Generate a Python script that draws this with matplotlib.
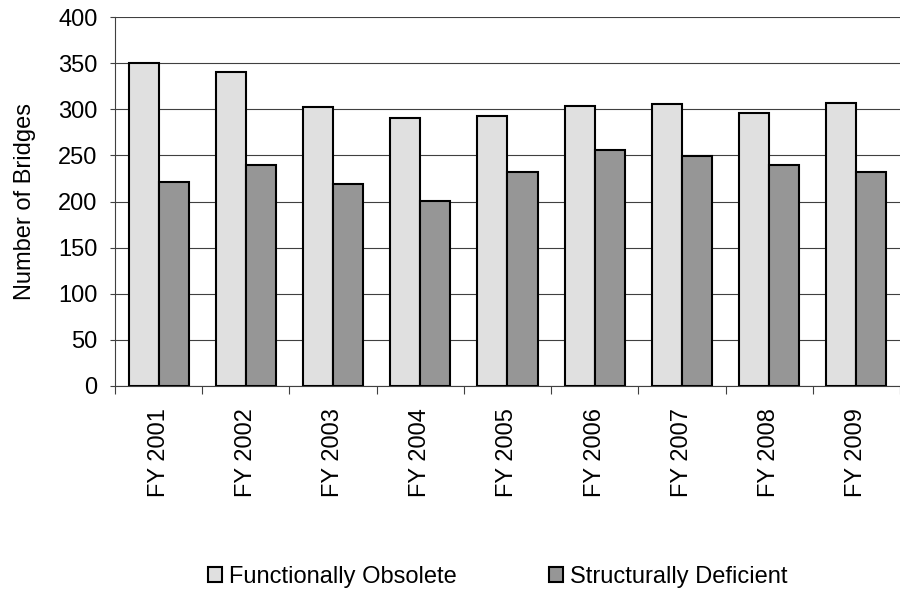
import matplotlib
matplotlib.use("Agg")
import matplotlib.pyplot as plt
import numpy as np
from matplotlib.patches import Patch

categories = ["FY 2001", "FY 2002", "FY 2003", "FY 2004", "FY 2005",
              "FY 2006", "FY 2007", "FY 2008", "FY 2009"]
functionally_obsolete = [350, 340, 302, 291, 293, 303, 306, 296, 307]
structurally_deficient = [221, 240, 219, 201, 232, 256, 249, 240, 232]
series_names = ["Functionally Obsolete", "Structurally Deficient"]

plt.rcParams['font.family'] = ['Liberation Sans', 'DejaVu Sans']
FS = 17

fig = plt.figure(figsize=(9.0, 5.93), dpi=100)
ax = fig.add_axes([115/900, 1 - 386/593, (900-115)/900, (386-17)/593])

x = np.arange(len(categories))
w = 0.345
c1, c2 = "#e0e0e0", "#969696"
ax.bar(x - w/2, functionally_obsolete, w, color=c1, edgecolor="black", linewidth=1.5, zorder=3)
ax.bar(x + w/2, structurally_deficient, w, color=c2, edgecolor="black", linewidth=1.5, zorder=3)

ax.set_xlim(-0.5, len(categories) - 0.5)
ax.set_ylim(0, 400)
ax.set_yticks(np.arange(0, 401, 50))
ax.yaxis.grid(True, color="#404040", linewidth=0.8, zorder=0)
ax.set_axisbelow(True)

ax.set_xticks(x)
ax.set_xticklabels(categories, rotation=90, fontsize=FS)
ax.tick_params(axis='x', length=0, pad=16)
ax.set_xticks(np.arange(-0.5, len(categories), 1), minor=True)
ax.tick_params(axis='x', which='minor', length=6, width=0.8, color="#404040")
ax.tick_params(axis='y', labelsize=FS, length=3.6, width=0.8, color="#404040", pad=9)

ax.spines['top'].set_visible(False)
ax.spines['right'].set_visible(False)
for s in ('left', 'bottom'):
    ax.spines[s].set_color("#404040")
    ax.spines[s].set_linewidth(0.8)

ax.set_ylabel("Number of Bridges", fontsize=FS, labelpad=16)

handles = [Patch(facecolor=c1, edgecolor="black", linewidth=1.5),
           Patch(facecolor=c2, edgecolor="black", linewidth=1.5)]
fig.legend(handles, series_names, loc="center", bbox_to_anchor=(498/900, 1 - 577/593),
           ncol=2, frameon=False, fontsize=FS, handlelength=0.6, handleheight=0.6,
           handletextpad=0.3, columnspacing=3.9, borderpad=0, borderaxespad=0)

fig.savefig("out.png", dpi=100)
